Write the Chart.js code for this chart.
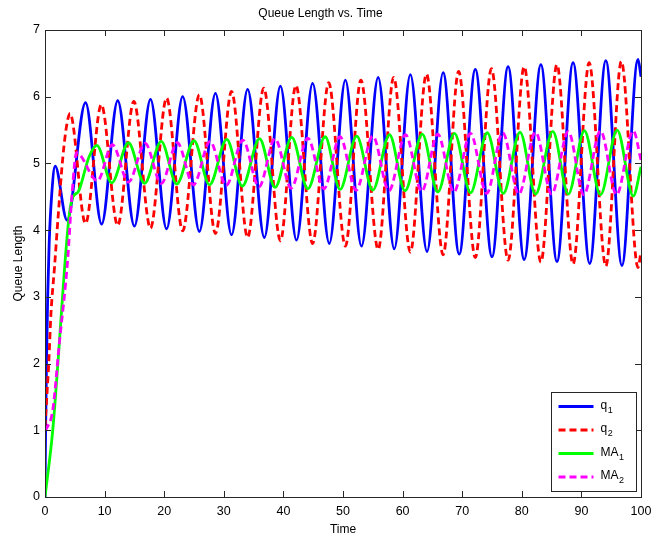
<!DOCTYPE html>
<html>
<head>
<meta charset="utf-8">
<title>Queue Length vs. Time</title>
<script src="https://cdn.jsdelivr.net/npm/chart.js@4.4.0/dist/chart.umd.min.js"></script>
<style>
    html, body { margin: 0; padding: 0; background: #fff; }
    #wrap { width: 670px; height: 537px; }
</style>
</head>
<body>
<div id="wrap"><canvas id="queueChart" width="670" height="537"></canvas></div>
<script>
// [time, queue length]: start-up ramp, then every peak and trough
const q1Points = [
    [0, 0], [0.1, 1.0], [0.25, 2.0], [0.45, 3.0], [0.7, 3.8], [1.1, 4.5], [1.7, 4.96], [3.7, 4.15],
    [6.8, 5.91], [9.5, 4.09], [12.2, 5.94], [15.0, 4.06], [17.7, 5.96], [20.4, 4.02], [23.1, 6.00],
    [25.9, 3.98], [28.6, 6.05], [31.3, 3.93], [34.0, 6.11], [36.8, 3.89], [39.5, 6.16], [42.2, 3.85],
    [44.9, 6.20], [47.7, 3.80], [50.4, 6.25], [53.1, 3.76], [55.9, 6.29], [58.6, 3.72], [61.3, 6.33],
    [64.1, 3.68], [66.8, 6.36], [69.5, 3.64], [72.2, 6.41], [75.0, 3.60], [77.7, 6.45], [80.4, 3.56],
    [83.2, 6.48], [85.9, 3.53], [88.6, 6.51], [91.4, 3.50], [94.1, 6.54], [96.8, 3.47], [99.5, 6.56],
    [100, 6.30]
];

const q2Points = [
    [0, 1.05], [0.3, 1.5], [0.65, 2.05], [1.0, 2.75], [1.6, 3.45], [2.2, 4.2], [3.0, 5.1], [3.6, 5.55],
    [4.2, 5.75], [6.8, 4.10], [9.45, 5.88], [12.2, 4.07], [14.9, 5.93], [17.7, 4.03], [20.4, 5.98],
    [23.1, 3.99], [25.9, 6.03], [28.6, 3.95], [31.3, 6.08], [34.0, 3.89], [36.7, 6.13], [39.5, 3.84],
    [42.1, 6.17], [44.9, 3.80], [47.6, 6.21], [50.4, 3.76], [53.0, 6.25], [55.9, 3.71], [58.5, 6.29],
    [61.3, 3.67], [64.0, 6.34], [66.8, 3.63], [69.4, 6.38], [72.2, 3.59], [74.9, 6.42], [77.7, 3.55],
    [80.4, 6.45], [83.2, 3.52], [85.9, 6.48], [88.6, 3.49], [91.3, 6.51], [94.1, 3.46], [96.7, 6.53],
    [99.5, 3.44], [100, 3.68]
];

const ma1Points = [
    [0, 0], [1.3, 1.0], [2.2, 2.05], [3.3, 3.45], [4.1, 4.25], [4.7, 4.5], [5.6, 4.58], [7.4, 5.1],
    [8.7, 5.27], [11.2, 4.71], [14.0, 5.31], [16.7, 4.70], [19.5, 5.33], [22.1, 4.69], [25.0, 5.34],
    [27.6, 4.68], [30.5, 5.36], [33.1, 4.66], [36.0, 5.37], [38.6, 4.64], [41.4, 5.39], [44.1, 4.62],
    [47.0, 5.40], [49.5, 4.61], [52.3, 5.41], [55.0, 4.60], [57.8, 5.43], [60.4, 4.59], [63.3, 5.44],
    [65.9, 4.57], [68.7, 5.45], [71.4, 4.56], [74.2, 5.46], [76.9, 4.55], [79.7, 5.47], [82.3, 4.54],
    [85.2, 5.48], [87.8, 4.54], [90.5, 5.49], [93.2, 4.53], [96.0, 5.50], [98.7, 4.51], [100, 4.95]
];

const ma2Points = [
    [0, 1.0], [0.4, 1.05], [1.3, 1.3], [2.4, 2.3], [3.8, 3.55], [4.5, 4.5], [5.3, 5.16], [8.8, 4.74],
    [11.3, 5.28], [14.0, 4.72], [16.8, 5.30], [19.5, 4.70], [22.2, 5.31], [24.9, 4.68], [27.7, 5.33],
    [30.4, 4.67], [33.2, 5.35], [35.9, 4.65], [38.6, 5.37], [41.3, 4.63], [44.1, 5.38], [46.8, 4.62],
    [49.5, 5.40], [52.2, 4.60], [55.0, 5.41], [57.7, 4.59], [60.5, 5.43], [63.2, 4.58], [65.9, 5.44],
    [68.6, 4.57], [71.4, 5.45], [74.1, 4.55], [76.8, 5.46], [79.5, 4.54], [82.3, 5.47], [85.0, 4.54],
    [87.8, 5.48], [90.4, 4.53], [93.2, 5.49], [95.9, 4.53], [98.7, 5.49], [100, 5.05]
];

const xTicks = [0, 10, 20, 30, 40, 50, 60, 70, 80, 90, 100];
const yTicks = [0, 1, 2, 3, 4, 5, 6, 7];

// legend names as [base, subscript]
const seriesNames = [['q', '1'], ['q', '2'], ['MA', '1'], ['MA', '2']];
const seriesColors = ['#0000ff', '#ff0000', '#00ff00', '#ff00ff'];
const seriesDashed = [false, true, false, true];

const FONT = '"Liberation Sans", Arial, Helvetica, sans-serif';
const TICK_LEN = 6;

function toXY(points) {
    return points.map(([x, y]) => ({ x, y }));
}

const allPoints = [q1Points, q2Points, ma1Points, ma2Points];

const datasets = allPoints.map((pts, i) => ({
    label: seriesNames[i].join(''),
    data: toXY(pts),
    borderColor: seriesColors[i],
    borderWidth: 2.8,
    borderDash: seriesDashed[i] ? [7, 4] : [],
    pointRadius: 0,
    fill: false,
    cubicInterpolationMode: 'monotone',
    order: allPoints.length - i
}));

// inward ticks on all four sides plus the box around the axes
const framePlugin = {
    id: 'frame',
    afterDatasetsDraw(chart) {
        const { ctx, chartArea: a, scales: { x, y } } = chart;
        ctx.save();
        ctx.strokeStyle = '#262626';
        ctx.lineWidth = 1;
        ctx.beginPath();
        xTicks.forEach(v => {
            const px = Math.round(x.getPixelForValue(v)) + 0.5;
            ctx.moveTo(px, a.bottom); ctx.lineTo(px, a.bottom - TICK_LEN);
            ctx.moveTo(px, a.top); ctx.lineTo(px, a.top + TICK_LEN);
        });
        yTicks.forEach(v => {
            const py = Math.round(y.getPixelForValue(v)) + 0.5;
            ctx.moveTo(a.left, py); ctx.lineTo(a.left + TICK_LEN, py);
            ctx.moveTo(a.right, py); ctx.lineTo(a.right - TICK_LEN, py);
        });
        ctx.stroke();
        ctx.strokeRect(Math.round(a.left) + 0.5, Math.round(a.top) + 0.5,
            Math.round(a.right - a.left), Math.round(a.bottom - a.top));
        ctx.restore();
    }
};

// MATLAB style legend box in the lower right corner
const legendPlugin = {
    id: 'boxLegend',
    afterDraw(chart) {
        const { ctx, chartArea: a } = chart;
        const boxW = 85, boxH = 99;
        const bx = Math.round(a.right) - 90 + 0.5;
        const by = Math.round(a.bottom) - 105 + 0.5;
        ctx.save();
        ctx.fillStyle = '#fff';
        ctx.fillRect(bx, by, boxW, boxH);
        ctx.strokeStyle = '#262626';
        ctx.lineWidth = 1;
        ctx.strokeRect(bx, by, boxW, boxH);

        seriesNames.forEach(([base, sub], i) => {
            const rowY = by + 14 + i * 23.5;
            ctx.beginPath();
            ctx.strokeStyle = seriesColors[i];
            ctx.lineWidth = 2.8;
            ctx.setLineDash(seriesDashed[i] ? [7, 4] : []);
            ctx.moveTo(bx + 7, rowY);
            ctx.lineTo(bx + 42, rowY);
            ctx.stroke();
            ctx.setLineDash([]);

            ctx.fillStyle = '#000';
            ctx.textBaseline = 'middle';
            ctx.textAlign = 'left';
            ctx.font = '12px ' + FONT;
            ctx.fillText(base, bx + 49, rowY - 1);
            const w = ctx.measureText(base).width;
            ctx.font = '9px ' + FONT;
            ctx.fillText(sub, bx + 49 + w + 0.5, rowY + 4);
        });
        ctx.restore();
    }
};

Chart.defaults.font.family = FONT;
Chart.defaults.font.size = 12;
Chart.defaults.color = '#000';

new Chart(document.getElementById('queueChart'), {
    type: 'line',
    data: { datasets },
    options: {
        responsive: false,
        maintainAspectRatio: false,
        animation: false,
        devicePixelRatio: 1,
        layout: { padding: { left: 0, right: 29, top: 0, bottom: 0 } },
        plugins: {
            legend: { display: false },
            tooltip: { enabled: false },
            title: {
                display: true,
                text: 'Queue Length vs. Time',
                color: '#000',
                font: { size: 12, weight: 'normal' },
                padding: { top: 6, bottom: 9.6 }
            }
        },
        scales: {
            x: {
                type: 'linear',
                min: 0,
                max: 100,
                afterBuildTicks: s => { s.ticks = xTicks.map(v => ({ value: v })); },
                afterFit: s => { s.height = 40; },
                grid: { display: false, drawTicks: false },
                border: { display: false },
                ticks: { padding: 7, maxRotation: 0, font: { size: 12.5 } },
                title: {
                    display: true,
                    text: 'Time',
                    font: { size: 12, lineHeight: 1 },
                    padding: { top: 0, bottom: 1 }
                }
            },
            y: {
                type: 'linear',
                min: 0,
                max: 7,
                afterBuildTicks: s => { s.ticks = yTicks.map(v => ({ value: v })); },
                afterFit: s => { s.width = 45; },
                grid: { display: false, drawTicks: false },
                border: { display: false },
                ticks: { padding: 5, font: { size: 12.5 } },
                title: {
                    display: true,
                    text: 'Queue Length',
                    font: { size: 12, lineHeight: 1 },
                    padding: { top: 13, bottom: 0 }
                }
            }
        }
    },
    plugins: [framePlugin, legendPlugin]
});
</script>
</body>
</html>
